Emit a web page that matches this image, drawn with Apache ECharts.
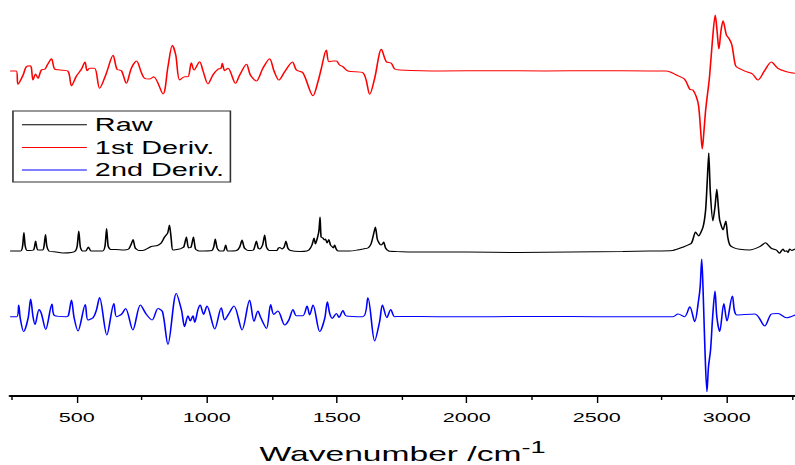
<!DOCTYPE html>
<html><head><meta charset="utf-8">
<script src="https://cdn.jsdelivr.net/npm/echarts@6/dist/echarts.min.js"></script>
<style>
html,body{margin:0;padding:0;background:#fff;overflow:hidden}
#c{width:497px;height:465px;transform:scaleX(1.6);transform-origin:0 0}
</style>
</head><body><div id="c"></div>
<script>
// Series names (legend)
const seriesNames = ['Raw', '1st Deriv.', '2nd Deriv.'];
// Tick labels of the wavenumber axis
const tickLabels = ['500', '1000', '1500', '2000', '2500', '3000'];
// Vertical offsets used to stack the three traces (arbitrary intensity units)
const rawOffset = 144;
const d1Offset = 325;
const d2Offset = 79.3;

// Raw spectrum: [wavenumber, intensity]
const rawSpectrum = [
[244,1],[285,1],[292,6],[297,19.5],[302,6],[310,1.5],
[334,2],[342,11],[350,2],
[370,2],[375,7],[380,17.5],[385,6],[393,1],
[420,0],[446,-1],[480,-0.5],
[495,1],[502,6],[508,21],[514,5],[522,1],
[535,1],[545,5],[555,1],
[600,1],[609,6],[615,23.5],[621,6],[630,2.5],
[650,2.5],[680,2],
[700,3],[710,8],[717,12.5],[725,4],[740,1.5],
[754,1.5],[787,5.5],[811,6.5],[825,9],[838,15],[850,19],[857,27],[864,12],[870,2],
[895,3],[903,3.7],[912,5],[922,15],[930,4],[940,5],[949,15],[957,3],[970,1],
[1020,1.5],[1027,5],[1033,13],[1040,4],[1050,1],
[1065,1],[1073,7],[1081,1],
[1115,1.5],[1127,5],[1136,12],[1145,4],[1160,1.5],
[1180,2],[1191,11],[1198,4],[1205,3],[1215,7],[1223,17],[1230,5],[1240,1.5],
[1270,1.5],[1276,4],[1281,4.5],[1290,3],[1298,5],[1305,11],[1312,4],[1322,1.5],
[1360,0.5],[1385,1],[1395,2.5],[1405,7],[1413,14],[1418,8],[1431,20],[1436,35],[1440,15],
[1447,14],[1452,12],[1457,13],[1463,9],[1470,12.5],[1476,7],[1480,6],[1487,4],[1492,7],[1498,3],[1505,1],
[1550,1],[1580,2],[1601,3],[1620,4],[1632,8],[1642,18],[1649,25],[1656,13],[1663,9],[1670,7],[1676,8],[1681,10],[1688,4],[1700,1],[1730,0.5],
[1800,0],[2000,0],[2200,-0.5],[2400,0],[2600,0.5],[2700,1],[2792,1.5],
[2830,4.7],[2864,8.7],[2880,20],[2892,16],[2909,25],[2919,42],[2925,70],[2931,99],[2937,60],[2947,31],[2955,45],[2962,63],[2968,45],[2973,32],[2986,22],[2992,27],[2997,31],[3004,15],[3012,7],[3024,4.7],
[3050,2.7],[3088,2],[3127,5.3],[3149,9.3],[3172,3.7],[3191,2],[3204,-1.3],[3210,1],[3217,3],[3223,0.5],[3230,1.3],[3236,-0.5],[3242,3],[3250,1.5],[3263,3]
];

// First derivative: [wavenumber, value]
const firstDeriv = [
[244,0],[268,0],[274,-13.3],[294,-4],[306,4.3],[322,5.3],[326,2.7],[332,-9],[342,-3],[351,-7.3],[364,1],[377,1.7],[387,6],[403,12.3],[415,2],[435,1],[466,0],
[480,-14.7],[499,-5],[518,1.7],[532,9],[540,0.3],[550,2.7],[569,2.7],[588,-17.3],[614,-2.3],[640,15.7],[655,1.7],[672,0.3],[691,-12.3],[710,2.7],[730,10],
[749,-1.7],[761,-7.3],[781,-8],[796,-5.7],[832,-23],[851,4.3],[868,25.7],[881,16],[896,-9],[915,-5.7],[928,-5.7],[941,8.3],[951,1],[973,9.3],[986,0],
[1005,-13],[1024,-4],[1043,1.7],[1055,2.7],[1060,7.7],[1069,0.3],[1082,2.7],[1111,-12.3],[1127,-4],[1153,6.7],[1168,-4],[1191,-10],[1216,2.7],[1242,12.3],
[1259,0],[1278,-9],[1300,-0.7],[1330,9],[1345,1],[1370,-1.7],[1409,-24.7],[1428,-10.7],[1441,2.7],[1460,21],[1470,9.3],[1486,10],[1499,10],[1511,6],[1524,4.3],
[1543,0],[1601,-1.7],[1627,-23.3],[1646,-7.3],[1672,21.7],[1691,9.3],[1710,7.7],[1723,2],[1742,1],
[1900,0],[2100,0.3],[2300,0],[2500,0.3],[2700,0],[2768,0],[2806,-4],[2838,-8.3],[2858,-18.3],[2870,-19],[2883,-25.7],[2892,-35],[2900,-60],[2906,-78],[2912,-62],[2918,-42],[2922,-32.3],
[2934,-5.7],[2945,30],[2956,56],[2963,40],[2970,22],[2978,40],[2986,50.3],[2999,36],[3010,32],[3020,26],[3030,10],[3037,4.3],[3076,-0.7],[3099,-3],[3120,-9],[3145,0],
[3172,9],[3197,2.7],[3230,-0.7],[3263,-2.3]
];

// Second derivative: [wavenumber, value]
const secondDeriv = [
[244,0],[270,0],[277,11.7],[283,-1.7],[296,-15],[313,-1.7],[323,17.7],[332,0],[340,-7.7],[355,7.3],[364,3.3],[381,-12.7],[405,12.7],[415,1],[460,0],[468,1],
[480,16.7],[490,-1],[505,-14.3],[533,12.3],[543,-3.3],[563,-1],[576,6.7],[588,19.3],[616,-18.3],[643,13.3],[653,0],[672,2.3],[688,8.3],[716,-13.3],[745,11.7],
[768,2.3],[790,-3.3],[813,8.3],[830,5],[851,-27.7],[883,23.3],[903,6.7],[915,-10],[928,1],[937,-4.3],[947,1],[954,-5.7],[966,6.7],[975,11.7],
[988,2.3],[1001,10.7],[1031,-12.3],[1056,9],[1069,-3.3],[1082,1.7],[1105,10.7],[1136,-13.3],[1165,16.7],[1182,-4.7],[1197,5.7],[1208,-1],[1230,-11.7],[1246,12.3],
[1258,2.3],[1274,5.7],[1300,-8.3],[1316,-3.3],[1332,7.3],[1345,1],[1370,1],[1386,10.7],[1396,1.7],[1409,11.7],[1435,-15],[1454,-1.7],[1464,15],[1473,3.3],
[1483,-1.7],[1499,3.3],[1509,-0.7],[1524,6.3],[1537,0.7],[1601,0],[1620,19],[1646,-24.3],[1665,-5],[1676,11.7],[1693,-1],[1708,7.3],[1723,0],[1742,0.3],
[1900,0],[2100,0],[2300,0.3],[2500,0],[2700,0],[2793,0],[2813,2.7],[2838,0],[2858,10],[2877,-5],[2892,16.7],[2898,30],[2904,57.7],[2910,20],[2916,-30],[2924,-75],
[2930,-50],[2938,-33],[2946,0],[2955,25.7],[2962,0],[2973,-15],[2989,13.3],[3001,-4.3],[3022,20.7],[3040,1.7],[3108,2.7],[3146,-9.3],[3172,2.7],[3197,3.3],[3230,-1],[3263,1.7]
];

const shift = (arr, off) => arr.map(p => [p[0], p[1] + off]);
const font = "'Liberation Sans', Arial, sans-serif";

const chart = echarts.init(document.getElementById('c'), null, {renderer: 'svg'});
chart.setOption({
  animation: false,
  backgroundColor: '#fff',
  grid: [
    {left: 6.25, width: 490.75, top: 0, height: 396, outerBoundsMode: 'none', containLabel: false},
    {left: -33.33, width: 568.75, top: 0, height: 396, outerBoundsMode: 'none', containLabel: false}
  ],
  xAxis: [
    {
      type: 'value', gridIndex: 0, min: 243.5, max: 3263.5,
      axisLine: {show: true, lineStyle: {color: '#000', width: 1.8}},
      axisTick: {show: false}, axisLabel: {show: false}, splitLine: {show: false},
      name: '{a|Wavenumber /cm}{b|-1}', nameLocation: 'middle', nameGap: 47.5,
      nameTextStyle: {
        rich: {
          a: {fontFamily: font, fontSize: 21, color: '#000', lineHeight: 21},
          b: {fontFamily: font, fontSize: 17, color: '#000', lineHeight: 21, padding: [0, 0, 14, 0]}
        }
      }
    },
    {
      type: 'value', gridIndex: 1, min: 0, max: 3500, interval: 500,
      axisLine: {show: false},
      axisTick: {show: true, length: 7, lineStyle: {color: '#000', width: 0.9}},
      minorTick: {show: true, splitNumber: 2, length: 4, lineStyle: {color: '#000', width: 0.9}},
      splitLine: {show: false},
      axisLabel: {
        margin: 14, color: '#000', fontFamily: font, fontSize: 13.5,
        formatter: v => tickLabels.includes(String(v)) ? String(v) : ''
      }
    }
  ],
  yAxis: [
    {type: 'value', gridIndex: 0, min: 0, max: 396, show: false},
    {type: 'value', gridIndex: 1, min: 0, max: 1, show: false}
  ],
  legend: {
    data: seriesNames, orient: 'vertical', left: 8.1, top: 111,
    icon: 'rect', itemWidth: 40.6, itemHeight: 1, itemGap: 4.7,
    padding: [4.7, 4, 3, 5.6],
    borderColor: '#333', borderWidth: 1,
    textStyle: {fontFamily: font, fontSize: 18, lineHeight: 18, color: '#000'}
  },
  series: [
    {name: seriesNames[0], type: 'line', data: shift(rawSpectrum, rawOffset), symbol: 'none', smooth: 0.2,
     lineStyle: {color: '#000', width: 1}, itemStyle: {color: '#000'}},
    {name: seriesNames[1], type: 'line', data: shift(firstDeriv, d1Offset), symbol: 'none', smooth: 0.3,
     lineStyle: {color: '#ff0000', width: 1}, itemStyle: {color: '#ff0000'}},
    {name: seriesNames[2], type: 'line', data: shift(secondDeriv, d2Offset), symbol: 'none', smooth: 0.3,
     lineStyle: {color: '#0000ff', width: 1}, itemStyle: {color: '#0000ff'}}
  ]
});
</script></body></html>
